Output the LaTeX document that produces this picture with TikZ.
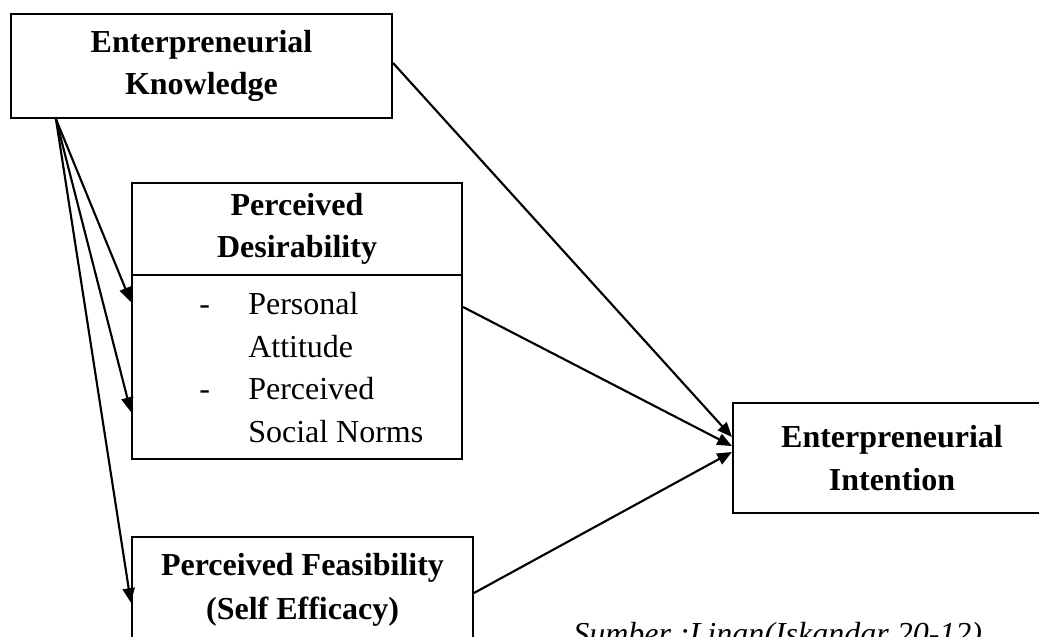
\documentclass[tikz,border=0pt]{standalone}
\usepackage{fontspec}
\setmainfont{Liberation Serif}
\usetikzlibrary{arrows.meta}
\begin{document}
\begin{tikzpicture}[x=0.75pt,y=-0.75pt,
  box/.style={draw, line width=1.6pt, rectangle, inner sep=0pt, align=center,
    font=\fontsize{24pt}{31pt}\selectfont\bfseries},
  conn/.style={line width=1.6pt, -{Triangle[length=11pt,width=9pt]}},
  listtext/.style={inner sep=0pt, font=\fontsize{24pt}{32pt}\selectfont},
  caption/.style={inner sep=0pt, font=\fontsize{24pt}{30pt}\selectfont\itshape}]
\useasboundingbox (0,0) rectangle (1039,636);
\clip (0,0) rectangle (1039,636);

\node[box, minimum width=285.75pt, minimum height=78pt] (know) at (201.5,66)
  {Enterpreneurial\\Knowledge};
\node[box, minimum width=247.5pt, minimum height=69pt] (desire) at (297,229)
  {Perceived\\Desirability};
\node[box, minimum width=247.5pt, minimum height=138pt] (list) at (297,367) {};
\node[listtext, anchor=west] (listtxt) at (199,370)
  {\begin{tabular}{@{}p{36.75pt}@{}l@{}}
   - & Personal\\
     & Attitude\\
   - & Perceived\\
     & Social Norms
   \end{tabular}};
\node[box, minimum width=255.75pt, minimum height=78.75pt,
  font=\fontsize{24pt}{33pt}\selectfont\bfseries] (feas) at (302.5,589.5)
  {Perceived Feasibility\\(Self Efficacy)};
\node[box, minimum width=238.5pt, minimum height=82.5pt,
  font=\fontsize{24pt}{32pt}\selectfont\bfseries] (intent) at (892,458)
  {Enterpreneurial\\Intention};
\node[caption, anchor=base west] (src) at (573,644) {Sumber :Linan(Iskandar 20-12)};

\draw[conn] ([yshift=2.25pt]know.east) -- ([yshift=15.75pt]intent.west);
\draw[conn] ([yshift=45pt]list.east) -- ([yshift=9pt]intent.west);
\draw[conn] ([yshift=-2.6pt]feas.east) -- ([yshift=4.5pt]intent.west);

\draw[conn] ([xshift=34.5pt]know.south west) -- ([yshift=48.75pt]list.west);
\draw[conn] ([xshift=34.5pt]know.south west) -- ([yshift=-33.75pt]list.west);
\draw[conn] ([xshift=34.5pt]know.south west) -- ([yshift=-10pt]feas.west);
\end{tikzpicture}
\end{document}
